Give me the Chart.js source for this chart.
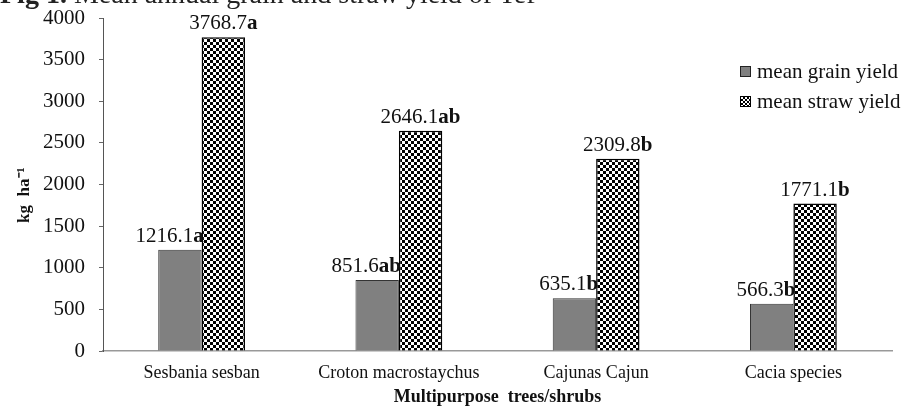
<!DOCTYPE html>
<html>
<head>
<meta charset="utf-8">
<script src="https://cdn.jsdelivr.net/npm/chart.js@4.4.0/dist/chart.umd.min.js"></script>
<style>
  html, body { margin: 0; padding: 0; background: #fff; }
  #wrap { position: relative; width: 906px; height: 409px; overflow: hidden; }
  #fig { position: absolute; left: 0px; top: -20px; font: 28px 'Liberation Serif', serif; line-height: 28px; white-space: nowrap; color: #222; }
  #legend { position: absolute; left: 740px; top: 59px; font: 21px 'Liberation Serif', serif; color: #111; }
  .item { display: flex; align-items: center; height: 24px; margin-bottom: 6px; }
  .sw { width: 9px; height: 9px; border: 1px solid #222; margin-right: 6px; }
  .grain { background: #808080; }
  .straw { background: repeating-conic-gradient(#000 0 25%, #fff 0 50%) 0 0 / 4px 4px; border-color: #000; }
</style>
</head>
<body>
<div id="wrap">
  <canvas id="chart" width="906" height="409"></canvas>
  <div id="fig"><b>Fig 1.</b> Mean annual grain and straw yield of Tef</div>
  <div id="legend"></div>
</div>
<script>
const categories = ['Sesbania sesban', 'Croton macrostaychus', 'Cajunas Cajun', 'Cacia species'];
const grainYield = [1216.1, 851.6, 635.1, 566.3];
const strawYield = [3768.7, 2646.1, 2309.8, 1771.1];
const grainLetters = ['a', 'ab', 'b', 'b'];
const strawLetters = ['a', 'ab', 'b', 'b'];
const seriesNames = ['mean grain yield', 'mean straw yield'];

const canvas = document.getElementById('chart');
const ctx = canvas.getContext('2d');

// checkerboard fill for the straw bars
function checker() {
    const c = document.createElement('canvas');
    c.width = 6; c.height = 6;
    const g = c.getContext('2d');
    g.fillStyle = '#fff';
    g.fillRect(0, 0, 6, 6);
    g.fillStyle = '#000';
    g.fillRect(0, 0, 3, 3);
    g.fillRect(3, 3, 3, 3);
    return ctx.createPattern(c, 'repeat');
}

const serif = "'Liberation Serif', 'Times New Roman', serif";

// value labels with the bold significance letters
const barLabels = {
    id: 'barLabels',
    afterDatasetsDraw(chart) {
        const c = chart.ctx;
        c.save();
        c.fillStyle = '#111';
        c.textBaseline = 'alphabetic';
        c.textAlign = 'left';
        chart.data.datasets.forEach((ds, di) => {
            const meta = chart.getDatasetMeta(di);
            meta.data.forEach((bar, i) => {
                const num = ds.data[i].toFixed(1);
                const letter = ds.letters[i];
                c.font = '21px ' + serif;
                const w1 = c.measureText(num).width;
                c.font = 'bold 21px ' + serif;
                const w2 = c.measureText(letter).width;
                const total = w1 + w2;
                const x0 = di === 0 ? bar.x + bar.width / 2 + 2 - total : bar.x - total / 2;
                const y = bar.y - 8;
                c.font = '21px ' + serif;
                c.fillText(num, x0, y);
                c.font = 'bold 21px ' + serif;
                c.fillText(letter, x0 + w1, y);
            });
        });
        c.restore();
    }
};

const chart = new Chart(ctx, {
    type: 'bar',
    data: {
        labels: categories,
        datasets: [
            {
                label: seriesNames[0],
                data: grainYield,
                letters: grainLetters,
                backgroundColor: '#808080',
                borderColor: '#333',
                borderWidth: 1
            },
            {
                label: seriesNames[1],
                data: strawYield,
                letters: strawLetters,
                backgroundColor: checker(),
                borderColor: '#000',
                borderWidth: 1.5
            }
        ]
    },
    options: {
        responsive: false,
        animation: false,
        layout: { padding: { left: 0, right: 14, top: 18, bottom: 0 } },
        datasets: { bar: { barPercentage: 1, categoryPercentage: 0.44 } },
        scales: {
            x: {
                grid: { display: false, drawTicks: false },
                border: { display: true, color: '#999', width: 1.5 },
                ticks: { color: '#111', font: { family: serif, size: 18 }, padding: 11, autoSkip: false, maxRotation: 0 },
                title: { display: true, text: 'Multipurpose  trees/shrubs', color: '#111', font: { family: serif, size: 18, weight: 'bold' }, padding: { top: 0, bottom: 1 } },
                afterFit: s => { s.height = 58; }
            },
            y: {
                min: 0,
                max: 4000,
                ticks: { stepSize: 500, color: '#111', font: { family: serif, size: 21 }, padding: 14, callback: v => String(v) },
                grid: { display: true, drawOnChartArea: false, tickLength: 4, color: '#666' },
                border: { display: true, color: '#555', width: 1 },
                title: { display: true, text: 'kg  ha\u207B\u00B9     ', color: '#111', font: { family: serif, size: 17, weight: 'bold' }, padding: { top: 14, bottom: 0 } },
                afterFit: s => { s.width = 103; s.paddingTop = 0; s.paddingBottom = 0; }
            }
        },
        plugins: {
            legend: { display: false },
            tooltip: { enabled: false }
        }
    },
    plugins: [barLabels]
});

// legend built from the datasets
const legend = document.getElementById('legend');
chart.data.datasets.forEach((ds, i) => {
    const row = document.createElement('div');
    row.className = 'item';
    const sw = document.createElement('span');
    sw.className = 'sw ' + (i === 0 ? 'grain' : 'straw');
    row.appendChild(sw);
    row.appendChild(document.createTextNode(ds.label));
    legend.appendChild(row);
});
</script>
</body>
</html>
